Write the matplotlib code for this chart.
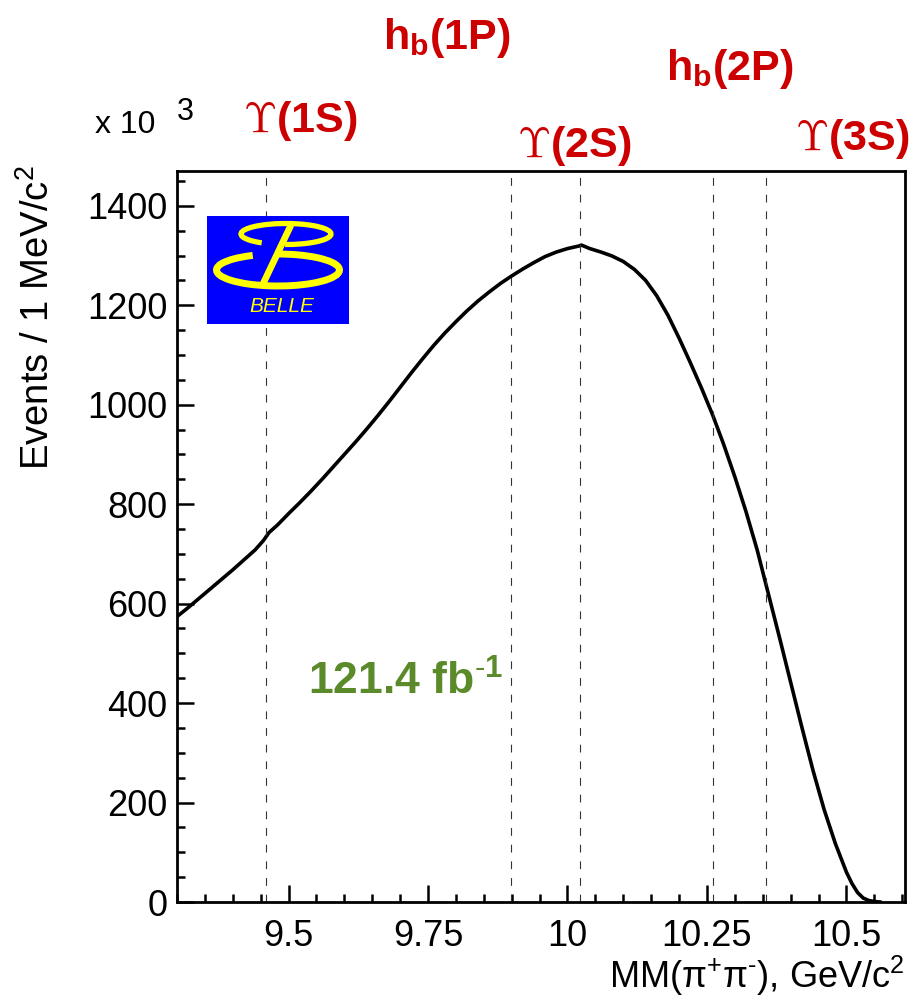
import matplotlib
matplotlib.use("Agg")
import matplotlib.pyplot as plt
import matplotlib.patches as patches
from matplotlib.ticker import MultipleLocator, FixedLocator, FuncFormatter

plt.rcParams['font.family'] = ['Liberation Sans', 'DejaVu Sans']
plt.rcParams['mathtext.fontset'] = 'custom'
plt.rcParams['mathtext.rm'] = 'Liberation Sans'
plt.rcParams['mathtext.it'] = 'Liberation Sans:italic'
plt.rcParams['mathtext.bf'] = 'Liberation Sans:bold'

# background curve (x in GeV/c^2, y in units of 10^3 events)
mass = [9.300, 9.320, 9.340, 9.360, 9.380, 9.400, 9.420, 9.440, 9.455, 9.465,
        9.480, 9.500, 9.520, 9.540, 9.560, 9.580, 9.600, 9.620, 9.640, 9.660,
        9.680, 9.700, 9.720, 9.740, 9.760, 9.780, 9.800, 9.820, 9.840, 9.860,
        9.880, 9.900, 9.920, 9.940, 9.960, 9.980, 10.000, 10.020, 10.025, 10.040,
        10.060, 10.080, 10.100, 10.120, 10.140, 10.160, 10.180, 10.200, 10.220, 10.240,
        10.260, 10.280, 10.300, 10.320, 10.340, 10.360, 10.380, 10.400, 10.420, 10.440,
        10.460, 10.480, 10.500, 10.510, 10.520, 10.530, 10.540, 10.550, 10.560]
events = [574, 592, 611, 630, 649, 668, 688, 708, 727, 743,
          758, 781, 803, 826, 850, 875, 900, 925, 951, 978,
          1006, 1035, 1064, 1092, 1119, 1144, 1167, 1189, 1209, 1227,
          1244, 1259, 1273, 1286, 1298, 1307, 1314, 1319, 1321, 1314,
          1307, 1299, 1288, 1272, 1250, 1219, 1180, 1134, 1085, 1034,
          980, 920, 855, 785, 708, 620, 532, 442, 352, 265,
          186, 118, 60, 37, 19, 8, 3, 1, 0]

# expected resonance masses (GeV/c^2)
res_mass = [9.460, 9.899, 10.023, 10.260, 10.355]
res_names = [r'$\Upsilon$(1S)', r'h$_{\mathbf{b}}$(1P)', r'$\Upsilon$(2S)',
             r'h$_{\mathbf{b}}$(2P)', r'$\Upsilon$(3S)']

xticks = [9.5, 9.75, 10.0, 10.25, 10.5]
yticks = [0, 200, 400, 600, 800, 1000, 1200, 1400]

W, H = 919, 999
fig = plt.figure(figsize=(W / 100, H / 100), dpi=100)


def px(x, y):
    # pixel position (from top-left) -> figure fraction
    return x / W, 1 - y / H


ax = fig.add_axes([177 / W, 1 - 902 / H, 728 / W, 731 / H])
ax.plot(mass, events, color='black', lw=2.6, solid_joinstyle='round')
for m in res_mass:
    ax.axvline(m, color='#333333', lw=0.8, dashes=(7, 8))

ax.set_xlim(9.3, 10.605)
ax.set_ylim(0, 1470)
ax.xaxis.set_major_locator(FixedLocator(xticks))
ax.xaxis.set_major_formatter(FuncFormatter(lambda v, p: '%g' % v))
ax.xaxis.set_minor_locator(MultipleLocator(0.05))
ax.yaxis.set_major_locator(FixedLocator(yticks))
ax.yaxis.set_minor_locator(MultipleLocator(50))
ax.tick_params(which='both', direction='in', top=False, right=False, width=1.8)
ax.tick_params(which='major', length=12)
ax.tick_params(which='minor', length=6)
ax.tick_params(axis='x', labelsize=26, pad=12)
ax.tick_params(axis='y', labelsize=26, pad=7)
for s in ax.spines.values():
    s.set_linewidth(2.0)

# axis titles
fig.text(*px(38, 165), r'Events / 1 MeV/c$^{2}$', rotation=90, fontsize=27.5,
         ha='center', va='top')
fig.text(*px(905, 988), r'MM(π$^{+}$π$^{\text{-}}$), GeV/c$^{2}$', fontsize=26,
         ha='right', va='baseline')
fig.text(*px(95, 133), 'x 10', fontsize=23, ha='left', va='baseline')
fig.text(*px(177, 120), '3', fontsize=22, ha='left', va='baseline')

# resonance labels
label_pos = [(243, 132), (383, 49), (517, 157), (666, 80), (795, 150)]
for name, (lx, ly) in zip(res_names, label_pos):
    mfam = 'cm' if 'Upsilon' in name else 'custom'
    fig.text(*px(lx, ly), name, fontsize=31, fontweight='bold', color='#cc0000',
             ha='left', va='baseline', math_fontfamily=mfam)

fig.text(*px(308, 695), r'121.4 fb$^{\mathbf{\text{-}1}}$', fontsize=32, fontweight='bold',
         color='#5a8a2a', ha='left', va='baseline')

# Belle logo
lg = fig.add_axes([207 / W, 1 - 324 / H, 142 / W, 108 / H])
lg.set_xlim(0, 142)
lg.set_ylim(0, 108)
lg.set_facecolor('#0000ff')
lg.set_xticks([])
lg.set_yticks([])
for s in lg.spines.values():
    s.set_visible(False)
yel = '#ffff00'
lg.add_patch(patches.Arc((79, 90), 90, 21, theta1=-95, theta2=200, color=yel, lw=3.8))
lg.add_patch(patches.Arc((71, 54), 123, 32, theta1=150, theta2=100, color=yel, lw=5.0))
lg.plot([84, 55], [99, 38], color=yel, lw=4.8, solid_capstyle='butt')
lg.text(75, 17, 'BELLE', fontsize=15, style='italic', color=yel,
        ha='center', va='center')

fig.savefig('out.png', dpi=100)
